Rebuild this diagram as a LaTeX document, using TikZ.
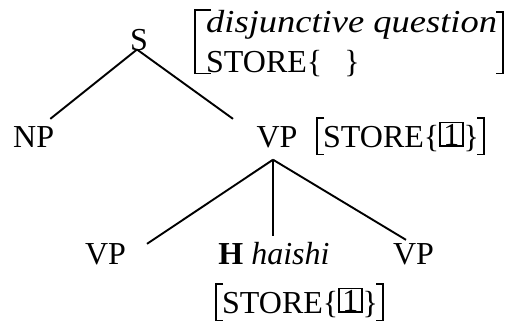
\documentclass[tikz,border=0pt]{standalone}
\usepackage{fontspec}
\usepackage{graphicx}
\setmainfont{Liberation Serif}
\newcommand{\tagbox}[1]{{\setlength\fboxsep{0pt}\setlength\fboxrule{1.6pt}\raisebox{1.6pt}{\fbox{\makebox[21pt]{\rule{0pt}{22pt}#1}}}}}
\begin{document}
\begin{tikzpicture}[
	x=1pt,y=-1pt,
	every node/.style={font=\fontsize{32}{38}\selectfont,inner sep=0pt},
	branch/.style={line width=1.9pt},
	bracket/.style={line width=1.9pt}
	]
	\useasboundingbox (0,0) rectangle (510,324);
	
	\node[anchor=base] (S) at (139,50) {S};
	\node[anchor=base west] (NP) at (13,147) {NP};
	\node[anchor=base] (VP) at (277,147) {VP};
	\node[anchor=base] (vpL) at (105.5,264) {VP};
	\node[anchor=base] (head) at (274,264) {\textbf{H} \textit{haishi}};
	\node[anchor=base] (vpR) at (413.5,264) {VP};
	
	\draw[branch] ([shift={(-2pt,1pt)}]S.south) -- ([shift={(-4pt,7pt)}]NP.north east);
	\draw[branch] ([shift={(-2pt,1pt)}]S.south) -- ([shift={(-44pt,7pt)}]VP.north);
	\draw[branch] ([shift={(-4pt,-12pt)}]VP.south) -- ([shift={(41.5pt,-1pt)}]vpL.north);
	\draw[branch] ([shift={(-4pt,-12pt)}]VP.south) -- ([shift={(-1pt,6pt)}]head.north);
	\draw[branch] ([shift={(-4pt,-12pt)}]VP.south) -- ([shift={(-7.5pt,3pt)}]vpR.north);
	
	% feature structures
	\node[anchor=base west] (dq) at (206,32) {\scalebox{1.14}[1]{\textit{disjunctive question}}};
	\node[anchor=base west] (st0) at (206,72) {STORE\{\hspace{22pt}\}};
	\draw[bracket] ([shift={(5pt,0pt)}]dq.north west) -- ([shift={(-11pt,0pt)}]dq.north west) |- ([shift={(5pt,3pt)}]st0.south west);
	\draw[bracket] ([shift={(-1pt,-2pt)}]dq.north east) -- ([shift={(6pt,-2pt)}]dq.north east) |- ([shift={(-1pt,3pt)}]st0.south -| dq.east);
	
	\node[anchor=base west] (st1) at (323,147) {STORE\{\tagbox{1}\}};
	\draw[bracket] ([shift={(1pt,4pt)}]st1.north west) -- ([shift={(-6pt,4pt)}]st1.north west) -- ([shift={(-6pt,-3pt)}]st1.south west) -- ([shift={(1pt,-3pt)}]st1.south west);
	\draw[bracket] ([shift={(-2pt,4pt)}]st1.north east) -- ([shift={(5pt,4pt)}]st1.north east) -- ([shift={(5pt,-3pt)}]st1.south east) -- ([shift={(-2pt,-3pt)}]st1.south east);
	
	\node[anchor=base west] (st2) at (222,313) {STORE\{\tagbox{1}\}};
	\draw[bracket] ([shift={(1pt,4pt)}]st2.north west) -- ([shift={(-6pt,4pt)}]st2.north west) -- ([shift={(-6pt,-3pt)}]st2.south west) -- ([shift={(1pt,-3pt)}]st2.south west);
	\draw[bracket] ([shift={(-2pt,4pt)}]st2.north east) -- ([shift={(5pt,4pt)}]st2.north east) -- ([shift={(5pt,-3pt)}]st2.south east) -- ([shift={(-2pt,-3pt)}]st2.south east);
	\end{tikzpicture}
\end{document}
